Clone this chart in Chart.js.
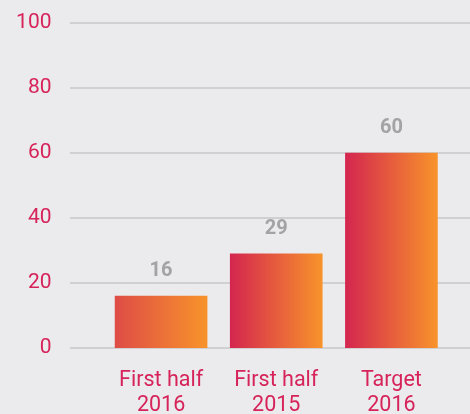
<!DOCTYPE html>
<html>
<head>
<meta charset="utf-8">
<script src="https://cdn.jsdelivr.net/npm/chart.js@4"></script>
<style>
  html, body { margin: 0; padding: 0; background: #ebebee; }
  #wrap { width: 470px; height: 414px; }
</style>
</head>
<body>
<div id="wrap"><canvas id="chart"></canvas></div>
<script>
// ================= DATA =================
const categories = [["First half", "2016"], ["First half", "2015"], ["Target", "2016"]];
const values = [16, 29, 60];
const yTicks = [0, 20, 40, 60, 80, 100];

const red = "#d6235a";
const barW = 92;

// bar fill: left-to-right gradient per bar
function barFill(ctx) {
  const chart = ctx.chart;
  const xs = chart.scales && chart.scales.x;
  if (!xs || !chart.chartArea || ctx.dataIndex === undefined) return "#e65a3c";
  const cx = xs.getPixelForValue(ctx.dataIndex);
  if (!isFinite(cx)) return "#e65a3c";
  const g = chart.ctx.createLinearGradient(cx - barW / 2, 0, cx + barW / 2, 0);
  g.addColorStop(0, ctx.dataIndex === 0 ? "#de4c46" : "#d4264f");
  g.addColorStop(1, "#f8932b");
  return g;
}

// long gridlines that start left of the plot area
const gridPlugin = {
  id: "longGrid",
  beforeDatasetsDraw(chart) {
    const c = chart.ctx;
    const y = chart.scales.y;
    c.save();
    c.strokeStyle = "#d0d0d2";
    c.lineWidth = 2;
    yTicks.forEach((t) => {
      const py = Math.round(y.getPixelForValue(t));
      c.beginPath();
      c.moveTo(70, py);
      c.lineTo(chart.width, py);
      c.stroke();
    });
    c.restore();
  },
};

// value labels above the bars
const valuePlugin = {
  id: "values",
  afterDatasetsDraw(chart) {
    const c = chart.ctx;
    c.save();
    c.fillStyle = "#a3a3a6";
    c.font = "bold 20px Roboto";
    c.textAlign = "center";
    c.textBaseline = "alphabetic";
    chart.getDatasetMeta(0).data.forEach((bar, i) => {
      c.fillText(values[i], bar.x, bar.y - 20);
    });
    c.restore();
  },
};

new Chart(document.getElementById("chart"), {
  type: "bar",
  data: {
    labels: categories,
    datasets: [
      {
        data: values,
        backgroundColor: barFill,
        barThickness: barW,
      },
    ],
  },
  options: {
    responsive: true,
    maintainAspectRatio: false,
    animation: false,
    layout: { padding: { top: 23, right: 21, left: 0, bottom: 0 } },
    plugins: { legend: { display: false }, tooltip: { enabled: false } },
    scales: {
      x: {
        grid: { display: false, drawTicks: false },
        border: { display: false },
        ticks: {
          color: red,
          font: { family: "Roboto", size: 21.5, lineHeight: 1.16 },
          padding: 20,
          maxRotation: 0,
        },
        afterFit(s) { s.height = 66; },
      },
      y: {
        min: 0,
        max: 100,
        afterBuildTicks(s) { s.ticks = yTicks.map((v) => ({ value: v })); },
        grid: { display: false, drawTicks: false },
        border: { display: false },
        ticks: {
          color: red,
          font: { family: "Roboto", size: 21 },
          padding: 52,
        },
        afterFit(s) {
          s.width = 103.5;
          s.paddingTop = 0;
          s.paddingBottom = 0;
        },
      },
    },
  },
  plugins: [gridPlugin, valuePlugin],
});
</script>
</body>
</html>
